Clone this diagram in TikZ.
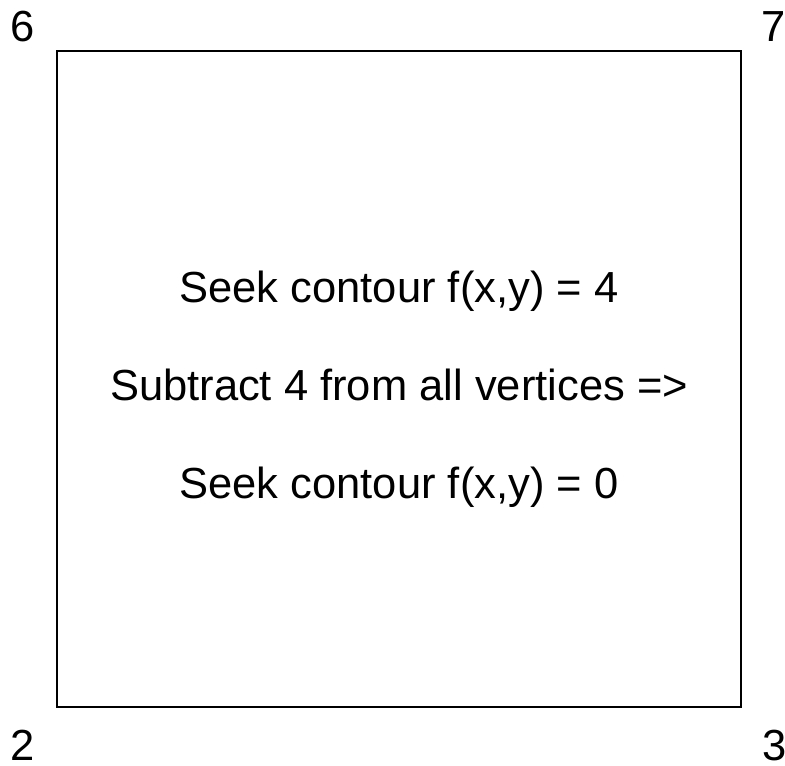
\documentclass[tikz,border=0pt]{standalone}
\usepackage{fontspec}
\setmainfont{Liberation Sans}
\begin{document}
\begin{tikzpicture}[x=1pt,y=1pt,
  lbl/.style={inner sep=0pt,anchor=base,font=\fontsize{43.5}{52}\selectfont},
  txt/.style={inner sep=0pt,anchor=base,font=\fontsize{43.5}{52}\selectfont}]
\useasboundingbox (0,0) rectangle (785,766);
\node[draw,line width=1.5pt,minimum width=684pt,minimum height=656pt,inner sep=0pt] (sq) at (399,387) {};
\node[lbl] (v6) at (22.5,724) {6};
\node[lbl] (v7) at (774,724) {7};
\node[lbl] (v2) at (22.5,5.5) {2};
\node[lbl] (v3) at (775,5.5) {3};
\node[txt] (t1) at (399,463) {Seek contour f(x,y) = 4};
\node[txt] (t2) at (399,365.5) {Subtract 4 from all vertices =>};
\node[txt] (t3) at (399,267) {Seek contour f(x,y) = 0};
\end{tikzpicture}
\end{document}
